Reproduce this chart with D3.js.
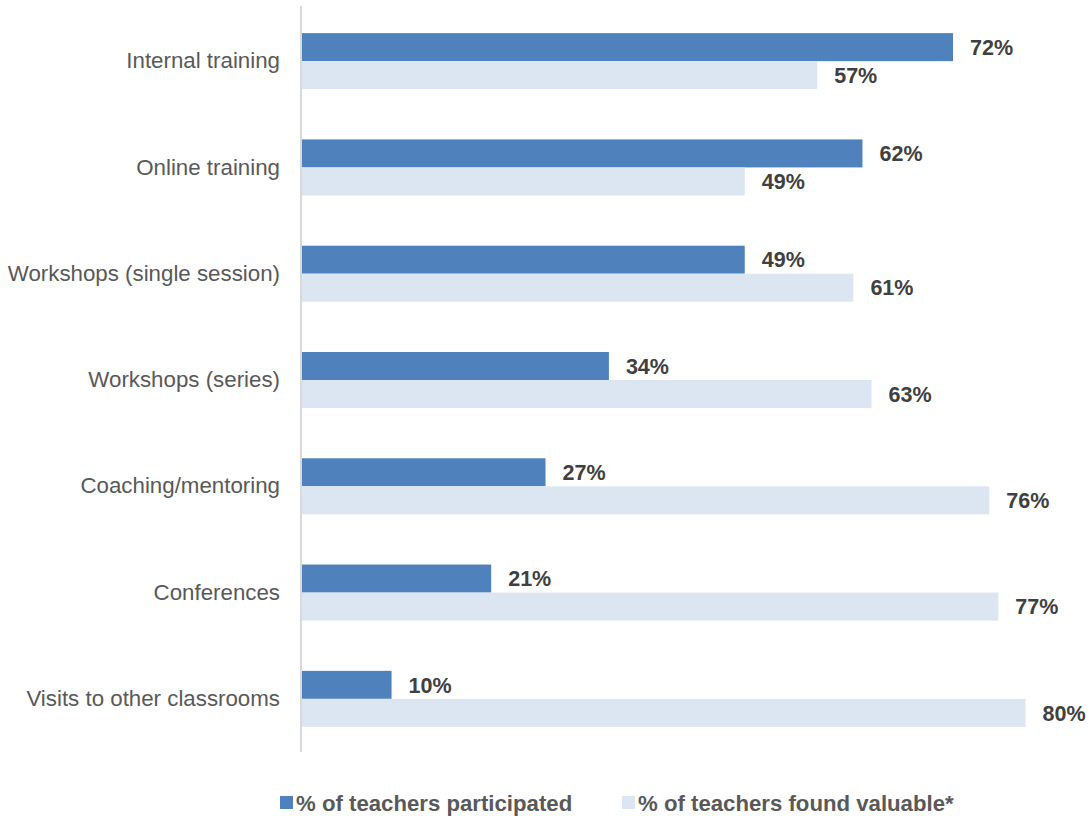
<!DOCTYPE html>
<html>
<head>
<meta charset="utf-8">
<script src="https://cdn.jsdelivr.net/npm/d3@7"></script>
<style>
  html, body { margin: 0; padding: 0; background: #fff; }
  svg { display: block; }
</style>
</head>
<body>
<svg id="chart" width="1089" height="816"></svg>
<script>
// Professional-development activities
const categories = [
  "Internal training",
  "Online training",
  "Workshops (single session)",
  "Workshops (series)",
  "Coaching/mentoring",
  "Conferences",
  "Visits to other classrooms"
];
const participated = [72, 62, 49, 34, 27, 21, 10];
const foundValuable = [57, 49, 61, 63, 76, 77, 80];
const seriesNames = ["% of teachers participated", "% of teachers found valuable*"];
const seriesColors = ["#4f81bd", "#dce6f2"];

const svg = d3.select("#chart");
const margin = { left: 301, top: 8, bottom: 64 };
const height = 816;

const x = d3.scaleLinear().domain([0, 100]).range([margin.left, margin.left + 905.6]);
const y = d3.scaleBand().domain(categories).range([margin.top, height - margin.bottom]).paddingInner(0.473).paddingOuter(0.2365);
const sub = d3.scaleBand().domain([0, 1]).range([0, y.bandwidth()]);

const rows = categories.map((c, i) => ({ cat: c, vals: [participated[i], foundValuable[i]] }));

const g = svg.append("g");
const row = g.selectAll("g.row").data(rows).join("g")
  .attr("class", "row")
  .attr("transform", d => `translate(0,${y(d.cat)})`);

row.selectAll("rect").data(d => d.vals).join("rect")
  .attr("x", x(0))
  .attr("y", (d, j) => sub(j))
  .attr("width", d => x(d) - x(0))
  .attr("height", sub.bandwidth())
  .attr("fill", (d, j) => seriesColors[j]);

row.selectAll("text.val").data(d => d.vals).join("text")
  .attr("class", "val")
  .attr("x", d => x(d) + 17)
  .attr("y", (d, j) => sub(j) + sub.bandwidth() / 2)
  .attr("dy", "0.36em")
  .attr("font-family", "'Liberation Sans', Arial, sans-serif")
  .attr("font-weight", "bold")
  .attr("font-size", 21.5)
  .attr("fill", "#404040")
  .text(d => d + "%");

// category axis
const yAxis = d3.axisLeft(y).tickSize(0).tickPadding(21);
const ax = svg.append("g").attr("transform", `translate(${x(0)},0)`).call(yAxis);
ax.select(".domain").remove();
ax.selectAll("text")
  .attr("font-family", "'Liberation Sans', Arial, sans-serif")
  .attr("font-size", 22.3)
  .attr("fill", "#595959");

svg.append("line")
  .attr("x1", x(0)).attr("x2", x(0))
  .attr("y1", 6).attr("y2", 752)
  .attr("stroke", "#d9d9d9")
  .attr("stroke-width", 2);

// legend
const legendX = [280, 622];
const leg = svg.append("g").selectAll("g").data(seriesNames).join("g")
  .attr("transform", (d, i) => `translate(${legendX[i]},796)`);
leg.append("rect").attr("width", 13).attr("height", 13).attr("fill", (d, i) => seriesColors[i]);
leg.append("text")
  .attr("x", 16).attr("y", 14.5)
  .attr("font-family", "'Liberation Sans Narrow', 'Arial Narrow', sans-serif")
  .attr("font-weight", "bold")
  .attr("font-size", 22.2)
  .attr("fill", "#595959")
  .text(d => d);
</script>
</body>
</html>
